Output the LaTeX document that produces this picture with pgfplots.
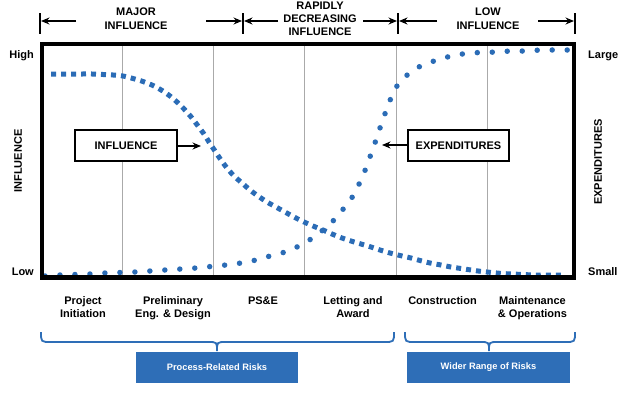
\documentclass[border=0pt]{standalone}
\usepackage{fontspec}
\setmainfont{Liberation Sans}
\usepackage{pgfplots}
\pgfplotsset{compat=1.18}
\usetikzlibrary{arrows.meta}
\definecolor{dotblue}{RGB}{43,108,182}
\definecolor{boxblue}{RGB}{46,110,183}
\definecolor{gridgray}{RGB}{170,170,170}

\pgfplotstableread{
x y
51 74
62 74
72 74
82 74
92 74
103 74.5
113 75
123 76
133 78.5
143 81.5
153 85.5
162 90.5
170 96
177 102
185 110
192 118
198 126
204 134
209 142
215 151
221 160
227 168
234 176
242 183
250 190
258 196
267 202
276 207
285 212
294 217
303 221.5
313 226
323 230
332 234
342 238
351 241
361 244
371 247
380 250
390 253
400 255.5
411 258
420 260.5
430 263
441 265
451 267
461 268.5
471 270
482 271.5
492 272.5
502 273.5
512 274
523 274.5
533 275
543 275
553 275
563 275
}\influence

\pgfplotstableread{
x y
45 276
60 275
75 274.5
90 274
105 273
120 272.5
135 272
150 271
165 270
181 269
196 268
211 266.5
226 265
241 263
256 260
270 256
285 252
299 246
311 239
323 230
335 219
344 208
353 196
360 182
366 168
371 154
376 140
381 125
386 111
391 98
397 86
405 77
415 69
428 63
441 59
451 56
466 53.5
480 52.5
497 52
511 51
526 51
541 50
556 50
571 50
}\expend

\begin{document}
\begin{tikzpicture}[x=1pt,y=1pt,
  lbl/.style={font=\fontsize{11}{13}\selectfont\bfseries, inner sep=0pt},
  hdr/.style={line width=1.3pt, -{Stealth[length=8.5pt,width=7pt]}},
  bar/.style={line width=1.6pt},
  brace/.style={draw=boxblue, line width=1.8pt}]
\useasboundingbox (0,0) rectangle (624,394);
\begin{axis}[
  at={(308pt,233.25pt)}, anchor=center,
  scale only axis, width=532pt, height=233.5pt,
  xmin=42, xmax=574, ymin=44, ymax=277.5, y dir=reverse,
  axis line style={draw=none},
  xtick={122,213,304,396,487}, xticklabels={}, ytick=\empty,
  major tick length=0pt,
  xmajorgrids, grid style={gridgray, line width=0.9pt},
  clip=false,
]
\addplot[dotblue, line width=5pt, dash pattern=on 5pt off 5pt, smooth, tension=0.5] table[x=x,y=y] {\influence};
\addplot[dotblue, line width=5.5pt, line cap=round, dash pattern=on 0pt off 15pt, smooth, tension=0.5] table[x=x,y=y] {\expend};

% frame
\draw[line width=4.5pt, line join=miter] (axis cs:42,44) rectangle (axis cs:574,277.5);

% in-plot boxes
\filldraw[fill=white, draw=black, line width=1.8pt] (axis cs:75,130) rectangle (axis cs:177,161);
\node[lbl] at (axis cs:126,145.5) {INFLUENCE};
\draw[hdr] (axis cs:177,146) -- (axis cs:201,146);
\filldraw[fill=white, draw=black, line width=1.8pt] (axis cs:408,130) rectangle (axis cs:509,161);
\node[lbl] at (axis cs:458.5,145.5) {EXPENDITURES};
\draw[hdr] (axis cs:408,145) -- (axis cs:382,145);

% header
\draw[bar] (axis cs:40,13) -- (axis cs:40,34);
\draw[bar] (axis cs:243,13) -- (axis cs:243,34);
\draw[bar] (axis cs:398,13) -- (axis cs:398,34);
\draw[bar] (axis cs:575,13) -- (axis cs:575,34);
\draw[hdr] (axis cs:76,21) -- (axis cs:41,21);
\draw[hdr] (axis cs:206,21) -- (axis cs:242,21);
\draw[hdr] (axis cs:278,21) -- (axis cs:244,21);
\draw[hdr] (axis cs:363,21) -- (axis cs:397,21);
\draw[hdr] (axis cs:437,21) -- (axis cs:399,21);
\draw[hdr] (axis cs:538,21) -- (axis cs:574,21);
\node[lbl, anchor=base] at (axis cs:136,15.7) {MAJOR};
\node[lbl, anchor=base] at (axis cs:136,29) {INFLUENCE};
\node[lbl, anchor=base] at (axis cs:320,9.5) {RAPIDLY};
\node[lbl, anchor=base] at (axis cs:320,22.3) {DECREASING};
\node[lbl, anchor=base] at (axis cs:320,35) {INFLUENCE};
\node[lbl, anchor=base] at (axis cs:488,15.7) {LOW};
\node[lbl, anchor=base] at (axis cs:488,29) {INFLUENCE};

% side labels
\node[lbl, anchor=base east] at (axis cs:34,58.5) {High};
\node[lbl, anchor=base east] at (axis cs:34,275) {Low};
\node[lbl, anchor=base west] at (axis cs:588,58.5) {Large};
\node[lbl, anchor=base west] at (axis cs:588,275) {Small};
\node[lbl, rotate=90] at (axis cs:18,161) {INFLUENCE};
\node[lbl, rotate=90] at (axis cs:598,162) {EXPENDITURES};

% phase labels
\node[lbl, anchor=base] at (axis cs:83,304) {Project};
\node[lbl, anchor=base] at (axis cs:83,317) {Initiation};
\node[lbl, anchor=base] at (axis cs:173,304) {Preliminary};
\node[lbl, anchor=base] at (axis cs:173,317) {Eng. \& Design};
\node[lbl, anchor=base] at (axis cs:263,304) {PS\&E};
\node[lbl, anchor=base] at (axis cs:353,304) {Letting and};
\node[lbl, anchor=base] at (axis cs:353,317) {Award};
\node[lbl, anchor=base] at (axis cs:442.5,304) {Construction};
\node[lbl, anchor=base] at (axis cs:532.5,304) {Maintenance};
\node[lbl, anchor=base] at (axis cs:532.5,317) {\& Operations};

% braces
\draw[brace] (axis cs:41,332) .. controls (axis cs:41,342) .. (axis cs:51,342)
  -- (axis cs:208,342) .. controls (axis cs:217,342) .. (axis cs:217,351)
  .. controls (axis cs:217,342) .. (axis cs:226,342)
  -- (axis cs:384,342) .. controls (axis cs:394,342) .. (axis cs:394,332);
\draw[brace] (axis cs:405,332) .. controls (axis cs:405,342) .. (axis cs:415,342)
  -- (axis cs:480,342) .. controls (axis cs:489,342) .. (axis cs:489,351)
  .. controls (axis cs:489,342) .. (axis cs:498,342)
  -- (axis cs:565,342) .. controls (axis cs:575,342) .. (axis cs:575,332);

% risk boxes
\fill[boxblue] (axis cs:136,352) rectangle (axis cs:298,383);
\node[font=\fontsize{9.3}{11}\selectfont\bfseries, text=white, inner sep=0pt] at (axis cs:217,367.5) {Process-Related Risks};
\fill[boxblue] (axis cs:407,352) rectangle (axis cs:570,383);
\node[font=\fontsize{9.3}{11}\selectfont\bfseries, text=white, inner sep=0pt] at (axis cs:488.5,367.5) {Wider Range of Risks};
\end{axis}
\end{tikzpicture}
\end{document}
